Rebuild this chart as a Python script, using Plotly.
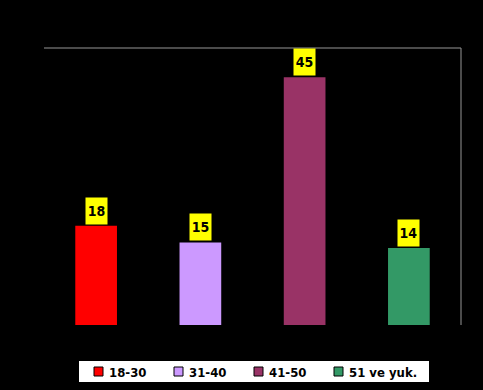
import plotly.graph_objects as go

categories = ["18-30", "31-40", "41-50", "51 ve yuk."]
values = [18, 15, 45, 14]
colors = ["#ff0000", "#cc99ff", "#993366", "#339966"]

W, H = 483, 390
ML, MR, MT, MB = 44, 22, 48, 65
PW, PH = W - ML - MR, H - MT - MB

def px(xp):
    return (xp - ML) / PW

def py(yp):
    return (H - MB - yp) / PH

FONT = "DejaVu Sans Condensed"

fig = go.Figure()
for cat, val, col in zip(categories, values, colors):
    fig.add_trace(go.Bar(x=[cat], y=[val], name=cat, marker=dict(color=col, line=dict(width=0)),
                         width=0.4, showlegend=False, hoverinfo="skip"))

for cat, val in zip(categories, values):
    fig.add_annotation(x=cat, y=val, text=f"<b>{val}</b>", showarrow=False,
                       yanchor="bottom", yshift=1, bgcolor="#ffff00",
                       width=21, height=26, borderpad=0,
                       font=dict(family=FONT, size=14, color="black"))

fig.add_shape(type="line", xref="paper", yref="paper", x0=0, x1=1, y0=1, y1=1,
              line=dict(color="#969696", width=1))
fig.add_shape(type="line", xref="paper", yref="paper", x0=1, x1=1, y0=0, y1=1,
              line=dict(color="#969696", width=1))

# legend box (drawn manually)
fig.add_shape(type="rect", xref="paper", yref="paper", x0=px(79), x1=px(429),
              y0=py(382), y1=py(361), fillcolor="white", line=dict(width=0), layer="above")
for i, (cat, col) in enumerate(zip(categories, colors)):
    sx = 94 + 80 * i
    fig.add_shape(type="rect", xref="paper", yref="paper", x0=px(sx), x1=px(sx + 9),
                  y0=py(376), y1=py(367), fillcolor=col,
                  line=dict(color="black", width=1), layer="above")
    fig.add_annotation(xref="paper", yref="paper", x=px(sx + 13), y=py(372),
                       xanchor="left", yanchor="middle", showarrow=False,
                       text=f"<b>{cat}</b>",
                       font=dict(family=FONT, size=13, color="black"))

fig.update_layout(
    width=W, height=H,
    paper_bgcolor="black", plot_bgcolor="black",
    margin=dict(l=ML, r=MR, t=MT, b=MB),
    barmode="overlay",
    showlegend=False,
    xaxis=dict(visible=False, range=[-0.5, 3.5]),
    yaxis=dict(visible=False, range=[0, 50.3]),
)
fig.write_html("out.html", config={"displayModeBar": False},
               post_script="document.body.style.margin='0';")
